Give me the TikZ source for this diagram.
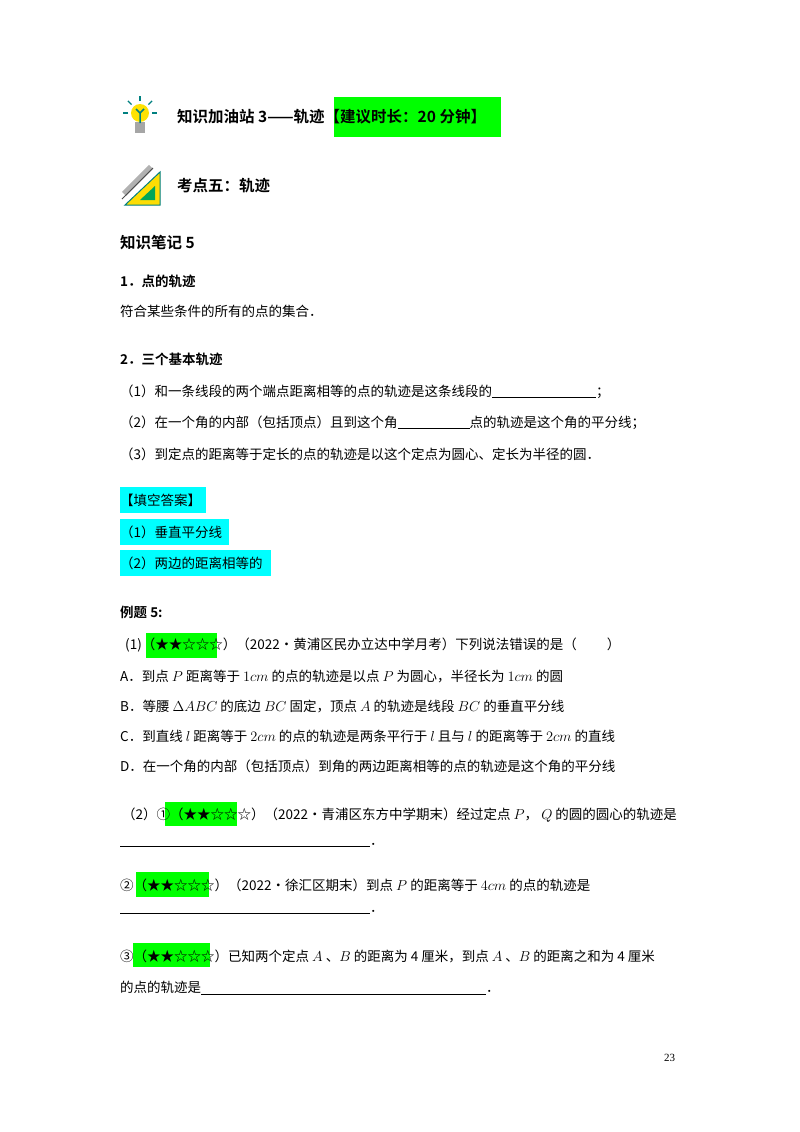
\documentclass[tikz,border=0pt]{standalone}
\usepackage{fontspec}
\setmainfont{Liberation Serif}
\newfontfamily\cjk{Noto Sans CJK SC}
\newfontfamily\cjkb{Noto Sans CJK SC Bold}
\begin{document}
\begin{tikzpicture}[x=1pt,y=-1pt,
  t/.style={anchor=west,inner sep=0pt,font=\fontsize{13.5}{13.5}\selectfont\cjk},
  h/.style={anchor=west,inner sep=0pt,font=\fontsize{15.5}{15.5}\selectfont\cjkb},
  hs/.style={anchor=west,inner sep=0pt,font=\fontsize{13.5}{13.5}\selectfont\cjkb}]
\useasboundingbox (0,0) rectangle (800,1132);
\definecolor{gg}{RGB}{0,255,0}
\definecolor{cy}{RGB}{0,255,255}
% boxes
\fill[gg] (334,97) rectangle (501,137);
\fill[cy] (120,487) rectangle (206,513);
\fill[cy] (120,519) rectangle (229,545);
\fill[cy] (120,550) rectangle (271,576);
\fill[gg] (146,633) rectangle (217,658);
\fill[gg] (165,802) rectangle (237,826);
\fill[gg] (136,872) rectangle (209,897);
\fill[gg] (133,943) rectangle (210,967);
% bulb icon
\fill[yellow!85!orange] (140,113) circle (9);
\fill[gray!70] (135,122) rectangle (145,133);
\draw[teal,line width=1.5pt] (140,113) -- (140,123) (136,109)--(140,113)--(144,109);
\foreach \a in {0,45,90,135,180} \draw[teal,line width=1.4pt] (140,113)++(\a+180:12) -- ++(\a+180:5);
% pencil icon
\fill[yellow!80!orange] (125,205) -- (160,172) -- (160,205) -- cycle;
\fill[teal!70!green] (140,200) -- (155,186) -- (155,200) -- cycle;
\draw[teal,line width=1pt] (125,205) -- (160,172) -- (160,205) -- cycle;
\draw[gray!60,line width=6pt] (124,194) -- (151,167);
\draw[black!70,line width=1pt] (122,199) -- (153,168);
% headings
\node[h] (n1) at (177,117) {知识加油站 3——轨迹【建议时长：20 分钟】};
\node[h] (n2) at (177,186) {考点五：轨迹};
\node[h] (n3) at (120,243) {知识笔记 5};
\node[hs] (n4) at (120,281) {1．点的轨迹};
\node[t] (n5) at (120,311) {符合某些条件的所有的点的集合．};
\node[hs] (n6) at (120,359) {2．三个基本轨迹};
\node[t] (n7) at (120,392) {（1）和一条线段的两个端点距离相等的点的轨迹是这条线段的\rule[-1.5pt]{104pt}{0.8pt}；};
\node[t] (n8) at (120,423) {（2）在一个角的内部（包括顶点）且到这个角\rule[-1.5pt]{72pt}{0.8pt}点的轨迹是这个角的平分线；};
\node[t] (n9) at (120,454) {（3）到定点的距离等于定长的点的轨迹是以这个定点为圆心、定长为半径的圆．};
\node[t] (n10) at (120,500) {【填空答案】};
\node[t] (n11) at (120,532) {（1）垂直平分线};
\node[t] (n12) at (120,563) {（2）两边的距离相等的};
\node[hs] (n13) at (120,612) {例题 5:};
\node[t] (n14) at (125,645) {(1)（★★☆☆☆）（2022•黄浦区民办立达中学月考）下列说法错误的是（\hspace{30pt}）};
\node[t] (n15) at (120,676) {A．到点 $P$ 距离等于 $1cm$ 的点的轨迹是以点 $P$ 为圆心，半径长为 $1cm$ 的圆};
\node[t] (n16) at (120,706) {B．等腰 $\Delta ABC$ 的底边 $BC$ 固定，顶点 $A$ 的轨迹是线段 $BC$ 的垂直平分线};
\node[t] (n17) at (120,736) {C．到直线 $l$ 距离等于 $2cm$ 的点的轨迹是两条平行于 $l$ 且与 $l$ 的距离等于 $2cm$ 的直线};
\node[t] (n18) at (120,766) {D．在一个角的内部（包括顶点）到角的两边距离相等的点的轨迹是这个角的平分线};
\node[t] (n19) at (122,815) {（2）①（★★☆☆☆）（2022•青浦区东方中学期末）经过定点 $P$，\ $Q$ 的圆的圆心的轨迹是};
\node[t] (n20) at (120,845) {\rule[-1.5pt]{250pt}{0.5pt}．};
\node[t] (n21) at (120,885) {②（★★☆☆☆）（2022•徐汇区期末）到点 $P$ 的距离等于 $4cm$ 的点的轨迹是};
\node[t] (n22) at (120,912) {\rule[-1.5pt]{250pt}{0.5pt}．};
\node[t] (n23) at (120,956) {③（★★☆☆☆）已知两个定点 $A$ 、$B$ 的距离为 4 厘米，到点 $A$ 、$B$ 的距离之和为 4 厘米};
\node[t] (n24) at (120,988) {的点的轨迹是\rule[-1.5pt]{285pt}{0.5pt}．};
\node[anchor=west,inner sep=0pt,font=\fontsize{11}{11}\selectfont] (pg) at (664,1058) {23};
\end{tikzpicture}
\end{document}
